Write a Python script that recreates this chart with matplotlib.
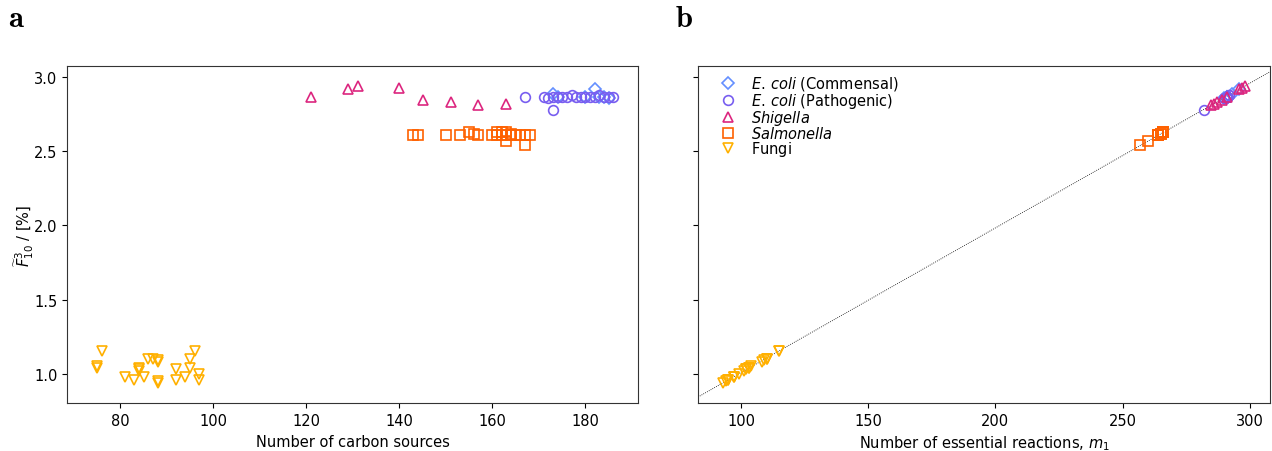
import numpy as np
import matplotlib
matplotlib.use("Agg")
import matplotlib.pyplot as plt

# ---------------------------------------------------------------
# data (carbon sources, F, essential rxns)
# ---------------------------------------------------------------
commensal_carbon = [173, 174, 180, 182, 183, 184, 185]
commensal_F      = [2.89, 2.87, 2.87, 2.92, 2.87, 2.87, 2.86]
commensal_m1     = [293, 291, 291, 296, 291, 291, 290]

pathogenic_carbon = [167, 171, 172, 173, 173, 174, 175, 176, 177, 178,
                     179, 180, 181, 182, 183, 184, 185, 186]
pathogenic_F      = [2.87, 2.87, 2.86, 2.87, 2.78, 2.87, 2.87, 2.87, 2.88, 2.87,
                     2.87, 2.87, 2.87, 2.87, 2.88, 2.87, 2.87, 2.87]
pathogenic_m1     = [291, 291, 290, 291, 282, 291, 291, 291, 292, 291,
                     291, 291, 291, 291, 292, 291, 291, 291]

shigella_carbon = [121, 129, 131, 140, 145, 151, 157, 163]
shigella_F      = [2.87, 2.92, 2.94, 2.93, 2.85, 2.83, 2.81, 2.82]
shigella_m1     = [291, 296, 298, 297, 289, 287, 285, 286]

salmonella_carbon = [143, 144, 150, 153, 155, 156, 157, 160, 161, 161, 162,
                     162, 163, 163, 163, 164, 164, 165, 166, 167, 167, 168]
salmonella_F      = [2.61, 2.61, 2.61, 2.61, 2.63, 2.62, 2.61, 2.61, 2.63, 2.61, 2.63,
                     2.61, 2.63, 2.61, 2.57, 2.62, 2.61, 2.61, 2.61, 2.61, 2.54, 2.61]
salmonella_m1     = [264, 264, 264, 264, 266, 265, 264, 264, 266, 264, 266,
                     264, 266, 264, 260, 265, 264, 264, 264, 264, 257, 264]

fungi_carbon = [75, 75, 76, 81, 83, 84, 84, 84, 85, 86, 87, 88,
                88, 88, 88, 92, 92, 94, 95, 95, 96, 97, 97]
fungi_F      = [1.04, 1.05, 1.15, 0.98, 0.96, 1.03, 1.04, 1.02, 0.98, 1.10, 1.10, 1.09,
                1.08, 0.94, 0.95, 1.03, 0.96, 0.98, 1.10, 1.04, 1.15, 1.00, 0.96]
fungi_m1     = [103, 104, 115, 97, 95, 102, 103, 101, 97, 110, 110, 109,
                108, 93, 94, 102, 95, 97, 110, 103, 115, 99, 95]

groups = [
    (r"$E.\,coli$ (Commensal)", "D", "#648FFF", commensal_carbon, commensal_F, commensal_m1),
    (r"$E.\,coli$ (Pathogenic)", "o", "#785EF0", pathogenic_carbon, pathogenic_F, pathogenic_m1),
    (r"$Shigella$", "^", "#DC267F", shigella_carbon, shigella_F, shigella_m1),
    (r"$Salmonella$", "s", "#FE6100", salmonella_carbon, salmonella_F, salmonella_m1),
    (r"$\mathrm{Fungi}$", "v", "#FFB000", fungi_carbon, fungi_F, fungi_m1),
]

FS = 10.5
plt.rcParams["font.size"] = FS
plt.rcParams["mathtext.fontset"] = "dejavusans"
plt.rcParams["axes.edgecolor"] = "0.2"

fig = plt.figure(figsize=(12.72, 4.52), dpi=100)
ax_a = fig.add_axes([0.0529, 0.1055, 0.4487, 0.7456])
ax_b = fig.add_axes([0.5487, 0.1055, 0.4497, 0.7456], sharey=ax_a)

MS = {"D": 6, "o": 7, "^": 7, "s": 6.5, "v": 7}

for label, mk, col, carbon, F, m1 in groups:
    ax_a.plot(carbon, F, ls="none", marker=mk, ms=MS[mk], mfc="none",
              mec=col, mew=1.2, label=label)
    ax_b.plot(m1, F, ls="none", marker=mk, ms=MS[mk], mfc="none",
              mec=col, mew=1.2, label=label)

# dotted linear fit through all points in panel b
all_m1 = np.concatenate([g[5] for g in groups])
all_F = np.concatenate([g[4] for g in groups])
slope, icept = np.polyfit(all_m1, all_F, 1)
ax_b.axline((0, icept), slope=slope, color="k", lw=0.6, ls=(0, (1, 1.5)), zorder=0)

ax_a.set_xlim(68.6, 191.3)
ax_a.set_ylim(0.80, 3.074)
ax_b.set_xlim(83.0, 308.0)
ax_a.set_yticks([1.0, 1.5, 2.0, 2.5, 3.0])
ax_a.set_xticks([80, 100, 120, 140, 160, 180])
ax_b.set_xticks([100, 150, 200, 250, 300])
ax_b.tick_params(labelleft=False)

ax_a.set_xlabel("Number of carbon sources")
ax_a.set_ylabel(r"$\widetilde{F}^3_{10}$ / [%]", labelpad=-1.5)
ax_b.set_xlabel(r"Number of essential reactions, $m_1$")

ax_b.legend(loc="upper left", bbox_to_anchor=(0.0164, 0.993), borderaxespad=0,
            frameon=False, numpoints=1, fontsize=FS,
            handletextpad=0.6, labelspacing=-0.12)

fig.text(0.0063, 0.96, r"$\mathbf{a}$", fontsize=22, math_fontfamily="cm", va="center")
fig.text(0.531, 0.96, r"$\mathbf{b}$", fontsize=22, math_fontfamily="cm", va="center")

fig.savefig("out.png", dpi=100)
